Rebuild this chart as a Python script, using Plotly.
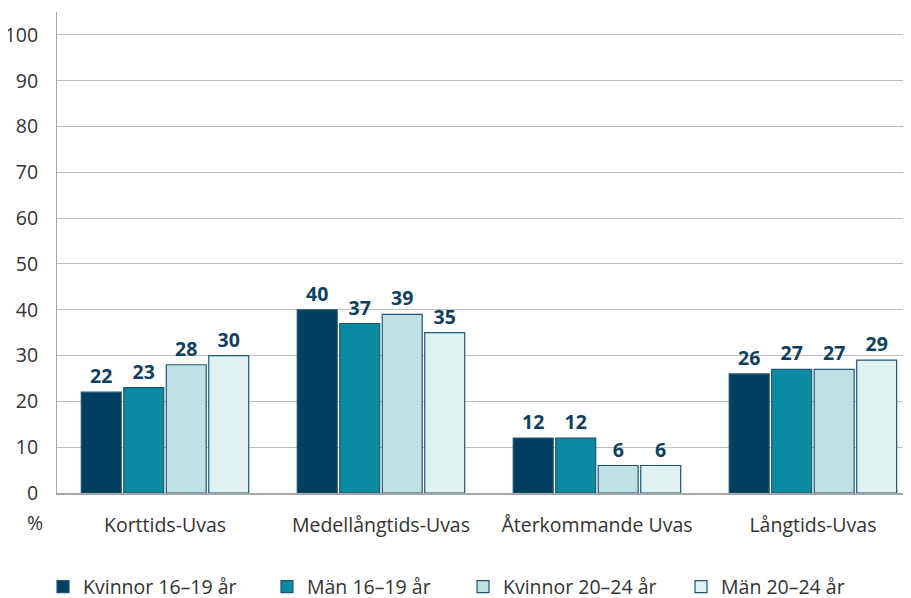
import plotly.graph_objects as go

categories = ["Korttids-Uvas", "Medellångtids-Uvas", "Återkommande Uvas", "Långtids-Uvas"]
series_names = ["Kvinnor 16–19 år", "Män 16–19 år", "Kvinnor 20–24 år", "Män 20–24 år"]
kvinnor_16_19 = [22, 40, 12, 26]
man_16_19 = [23, 37, 12, 27]
kvinnor_20_24 = [28, 39, 6, 27]
man_20_24 = [30, 35, 6, 29]
y_ticks = [0, 10, 20, 30, 40, 50, 60, 70, 80, 90, 100]

values = [kvinnor_16_19, man_16_19, kvinnor_20_24, man_20_24]
colors = ["#003f5f", "#0a8ba1", "#bfe1e3", "#e0f1f1"]
outline = "#1d5775"
legend_ids = ["legend", "legend2", "legend3", "legend4"]
legend_x = [0.0388, 0.2868, 0.5039, 0.7453]
FS = 19.5

fig = go.Figure()
for name, vals, col, lg in zip(series_names, values, colors, legend_ids):
    fig.add_trace(go.Bar(
        x=categories, y=vals, name=name, legend=lg,
        marker=dict(color=col, line=dict(color=outline, width=1.2)),
        text=[str(v) for v in vals], textposition="outside",
        textfont=dict(family="Open Sans", size=FS, color="#0d3f5f", weight="bold"),
        cliponaxis=False,
    ))

# page body has an 8px default margin; figure is sized to fit the window
layout_legends = {}
for lg, lx in zip(legend_ids, legend_x):
    layout_legends[lg] = dict(orientation="h", xref="container", x=lx, xanchor="left",
                              yref="container", y=0.0186, yanchor="middle",
                              font=dict(size=FS, color="#333333"),
                              bgcolor="rgba(0,0,0,0)")

fig.update_layout(
    width=903, height=590,
    margin=dict(l=49, r=0, t=4, b=105),
    plot_bgcolor="white", paper_bgcolor="white",
    barmode="group", bargap=0.213, bargroupgap=0.06,
    font=dict(family="Open Sans", size=FS, color="#333333"),
    yaxis=dict(range=[0, 105], tickvals=y_ticks, showgrid=True, gridcolor="#bfbfbf",
               gridwidth=1, showline=True, linecolor="#a6a6a6", linewidth=1,
               ticks="", ticklabelstandoff=14, zeroline=False, automargin=False),
    xaxis=dict(showline=True, linecolor="#a6a6a6", linewidth=1.5, ticks="",
               ticklabelstandoff=14, automargin=False, range=[-0.5, 3.454]),
    showlegend=True,
    **layout_legends,
)
fig.add_annotation(text="%", xref="paper", yref="paper", x=-0.014, y=-0.062,
                   xanchor="right", yanchor="middle", showarrow=False,
                   font=dict(size=FS, color="#333333"))
fig.update_traces(textangle=0)
fig.write_html("out.html")
